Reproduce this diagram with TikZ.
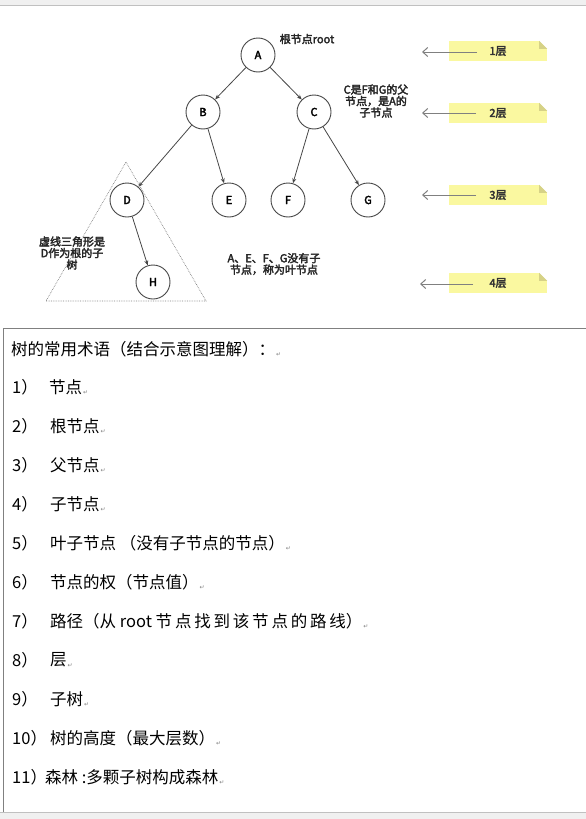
\documentclass[tikz,border=0pt]{standalone}
\usepackage{fontspec}
\setmainfont{Noto Sans CJK SC}
\newfontfamily\boldcjk{Noto Sans CJK SC}[FakeBold=3]
\newfontfamily\symfont{DejaVu Sans}
\usetikzlibrary{arrows.meta}
\definecolor{notefill}{RGB}{250,248,160}
\definecolor{notefold}{RGB}{214,210,135}
\definecolor{edgegray}{RGB}{70,70,70}
\definecolor{rulegray}{RGB}{128,128,128}
\definecolor{bandgray}{RGB}{240,240,240}
\newcommand{\pmark}{{\symfont\fontsize{6}{6}\selectfont\color{gray}\,\raisebox{-1.5pt}{↵}}}

\begin{document}
\begin{tikzpicture}[x=1pt,y=-1pt,
  vertex/.style={circle,draw=edgegray,line width=0.9pt,minimum size=34pt,inner sep=0pt,font=\boldcjk\fontsize{11}{11}\selectfont},
  link/.style={->,>={Stealth[length=5pt,width=4pt]},draw=edgegray,line width=0.8pt},
  remark/.style={align=center,inner sep=0pt,font=\boldcjk\fontsize{11}{11.5}\selectfont,text=black!85},
  note/.style={fill=notefill,minimum width=98pt,minimum height=20pt,inner sep=0pt,font=\boldcjk\fontsize{11}{11}\selectfont,text=black!80},
  levelarrow/.style={-{Straight Barb[length=5pt,width=9pt]},draw=rulegray,line width=1pt},
  num/.style={anchor=west,inner sep=0pt,font=\fontsize{16.5}{16.5}\selectfont},
  term/.style={anchor=west,inner sep=0pt,font=\fontsize{16.5}{16.5}\selectfont}]
      \useasboundingbox (0,0) rectangle (586,819);
      % page bands and table rule
      \fill[bandgray] (0,0) rectangle (586,5);
      \draw[rulegray!50] (0,5) -- (586,5);
      \fill[bandgray] (0,812) rectangle (586,819);
      \draw[rulegray!50] (0,812) -- (586,812);
      \draw[rulegray,line width=1pt] (586,328) -- (3,328) -- (3,812);

      % tree
      \node[vertex] (a) at (258,55) {A};
      \node[vertex] (b) at (203,112) {B};
      \node[vertex] (c) at (314,112) {C};
      \node[vertex] (d) at (127,200) {D};
      \node[vertex] (e) at (229,200) {E};
      \node[vertex] (f) at (288,200) {F};
      \node[vertex] (g) at (368,200) {G};
      \node[vertex] (h) at (153,282) {H};
      \draw [link] (a) -- (b);
      \draw [link] (a) -- (c);
      \draw [link] (b) -- (d);
      \draw [link] (b) -- (e);
      \draw [link] (c) -- (f);
      \draw [link] (c) -- (g);
      \draw [link] (d) -- (h);
      \draw[gray,densely dotted,line width=0.7pt] (126,162) -- (206,301) -- (46,301) -- cycle;

      \node[remark] (rootnote) at (307,39) {根节点root};
      \node[remark] (cnote) at (376,101) {C是F和G的父\\节点，是A的\\子节点};
      \node[remark] (dnote) at (72,253) {虚线三角形是\\D作为根的子\\树};
      \node[remark] (leafnote) at (274,264) {A、E、F、G没有子\\节点，称为叶节点};

      % levels
      \node[note] (l1) at (498,51) {1层};
      \node[note] (l2) at (498,113) {2层};
      \node[note] (l3) at (498,195) {3层};
      \node[note] (l4) at (498,283) {4层};
      \fill[white] ([xshift=-8pt]l1.north east) -- (l1.north east) -- ([yshift=-8pt]l1.north east) -- cycle;
      \fill[notefold] ([xshift=-8pt]l1.north east) -- ([yshift=-8pt]l1.north east) -- ([xshift=-8pt,yshift=-8pt]l1.north east) -- cycle;
      \fill[white] ([xshift=-8pt]l2.north east) -- (l2.north east) -- ([yshift=-8pt]l2.north east) -- cycle;
      \fill[notefold] ([xshift=-8pt]l2.north east) -- ([yshift=-8pt]l2.north east) -- ([xshift=-8pt,yshift=-8pt]l2.north east) -- cycle;
      \fill[white] ([xshift=-8pt]l3.north east) -- (l3.north east) -- ([yshift=-8pt]l3.north east) -- cycle;
      \fill[notefold] ([xshift=-8pt]l3.north east) -- ([yshift=-8pt]l3.north east) -- ([xshift=-8pt,yshift=-8pt]l3.north east) -- cycle;
      \fill[white] ([xshift=-8pt]l4.north east) -- (l4.north east) -- ([yshift=-8pt]l4.north east) -- cycle;
      \fill[notefold] ([xshift=-8pt]l4.north east) -- ([yshift=-8pt]l4.north east) -- ([xshift=-8pt,yshift=-8pt]l4.north east) -- cycle;
      \coordinate (s1) at (477,52);
      \coordinate (e1) at (422,52);
      \coordinate (s2) at (476,113);
      \coordinate (e2) at (422,113);
      \coordinate (s3) at (476,195);
      \coordinate (e3) at (422,195);
      \coordinate (s4) at (473,284);
      \coordinate (e4) at (420,284);
      \draw [levelarrow] (s1) -- (e1);
      \draw [levelarrow] (s2) -- (e2);
      \draw [levelarrow] (s3) -- (e3);
      \draw [levelarrow] (s4) -- (e4);

      % terms
      \node[term] (head) at (11,349) {树的常用术语（结合示意图理解）：\pmark};
      \node[num] (n1) at (12,387) {1）};
      \node[term] (t1) at (49,387) {节点\pmark};
      \node[num] (n2) at (12,426) {2）};
      \node[term] (t2) at (50,426) {根节点\pmark};
      \node[num] (n3) at (12,465) {3）};
      \node[term] (t3) at (50,465) {父节点\pmark};
      \node[num] (n4) at (12,504) {4）};
      \node[term] (t4) at (50,504) {子节点\pmark};
      \node[num] (n5) at (12,543) {5）};
      \node[term] (t5) at (50,543) {叶子节点 （没有子节点的节点）\pmark};
      \node[num] (n6) at (12,582) {6）};
      \node[term] (t6) at (50,582) {节点的权（节点值）\pmark};
      \node[num] (n7) at (12,621) {7）};
      \node[term] (t7) at (50,621) {路径（从 root\ {\addfontfeature{LetterSpace=17}节点找到该节点的路线}）\pmark};
      \node[num] (n8) at (12,660) {8）};
      \node[term] (t8) at (50,660) {层\pmark};
      \node[num] (n9) at (12,699) {9）};
      \node[term] (t9) at (50,699) {子树\pmark};
      \node[num] (n10) at (12,738) {10）};
      \node[term] (t10) at (50,738) {树的高度（最大层数）\pmark};
      \node[num] (n11) at (12,777) {11）};
      \node[term] (t11) at (45,777) {森林 :多颗子树构成森林\pmark};
\end{tikzpicture}
\end{document}
